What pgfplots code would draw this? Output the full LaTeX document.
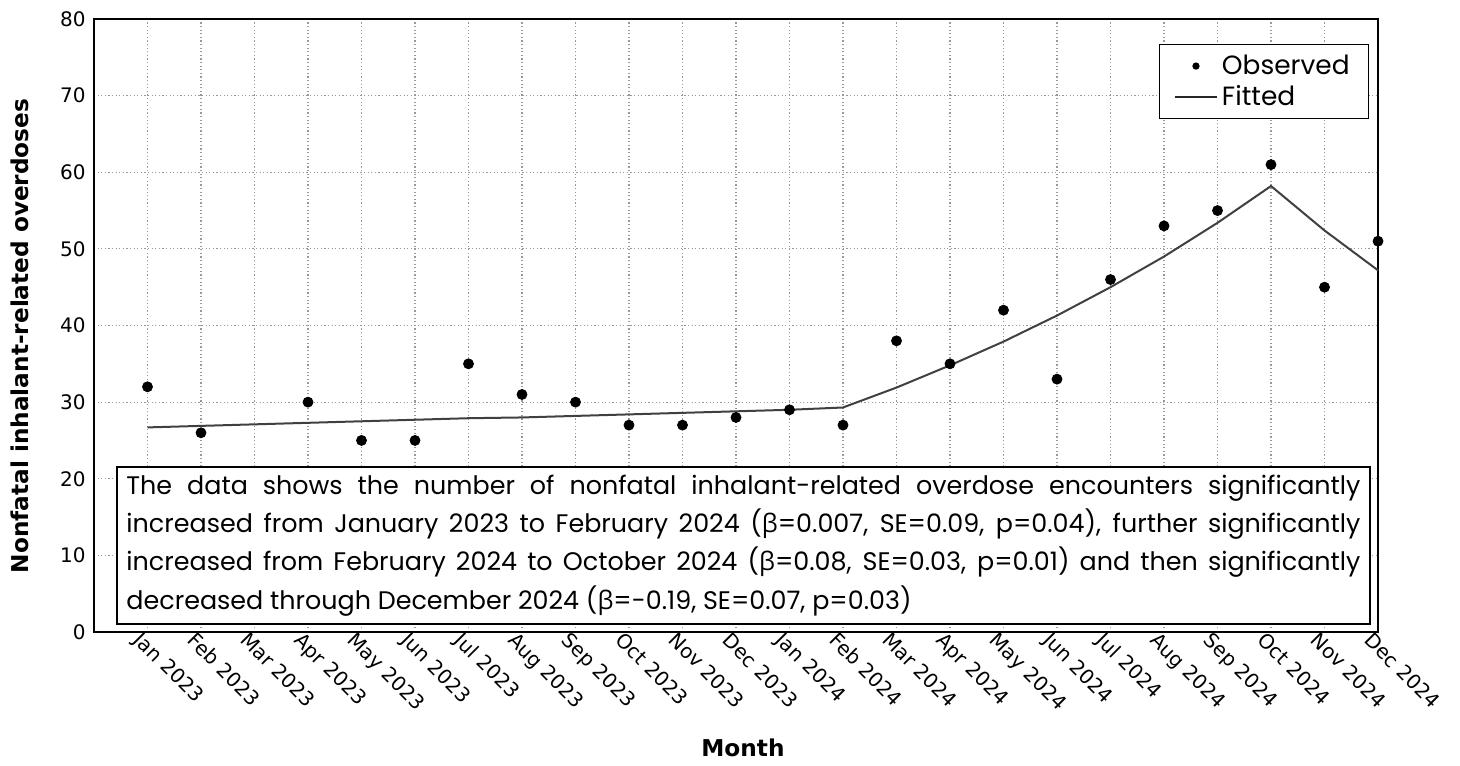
\documentclass[border=0pt]{standalone}
\usepackage{fontspec}
\setmainfont{DejaVu Sans}
\newfontfamily\pop{Poppins}
\newfontfamily\grk{Open Sans}
\usepackage{pgfplots}
\pgfplotsset{compat=1.18}
\pgfplotstableread{
x y
0 32
1 26
3 30
4 25
5 25
6 35
7 31
8 30
9 27
10 27
11 28
12 29
13 27
14 38
15 35
16 42
17 33
18 46
19 53
20 55
21 61
22 45
23 51
}\observed
\pgfplotstableread{
x y
0 26.7
1 26.9
2 27.1
3 27.3
4 27.5
5 27.7
6 27.9
7 28.0
8 28.2
9 28.4
10 28.6
11 28.8
12 29.0
13 29.3
14 31.9
15 34.8
16 37.9
17 41.3
18 45.0
19 49.0
20 53.4
21 58.2
22 52.4
23 47.2
}\fitted
\begin{document}
\begin{tikzpicture}
\useasboundingbox (0,0) rectangle (730pt,382.5pt);
\begin{axis}[
 at={(47pt,66.5pt)}, anchor=south west, scale only axis,
 width=642pt, height=306.5pt,
 xmin=-1, xmax=23, ymin=0, ymax=80,
 clip=false,
 xtick={0,...,23},
 xticklabels={Jan 2023,Feb 2023,Mar 2023,Apr 2023,May 2023,Jun 2023,Jul 2023,Aug 2023,Sep 2023,Oct 2023,Nov 2023,Dec 2023,Jan 2024,Feb 2024,Mar 2024,Apr 2024,May 2024,Jun 2024,Jul 2024,Aug 2024,Sep 2024,Oct 2024,Nov 2024,Dec 2024},
 ytick={0,10,...,80},
 grid=major,
 major grid style={gray!80, line width=0.6pt, dash pattern=on 0.6pt off 1.2pt},
 major tick length=0pt,
 axis line style={line width=1.1pt, black},
 tick label style={font=\fontsize{10}{12}\selectfont},
 /pgf/number format/assume math mode=true,
 xticklabel style={rotate=-45, anchor=north west, inner sep=0pt, xshift=-2pt, yshift=-1pt},
 yticklabel style={inner sep=0pt, xshift=-4pt},
 xlabel={Month},
 ylabel={Nonfatal inhalant-related overdoses},
 label style={font=\bfseries\fontsize{11.6}{13}\selectfont},
 xlabel style={at={(axis description cs:0.5054,-0.189)}, anchor=center},
 ylabel style={at={(axis description cs:-0.0576,0.483)}, anchor=center},
 legend style={at={(rel axis cs:1,1)}, anchor=north east, xshift=-4.5pt, yshift=-12.5pt,
   draw=black, font=\pop\fontsize{13.2}{15}\selectfont, legend cell align=left,
   inner xsep=7.5pt, inner ysep=3.2pt, row sep=0pt},
]
\addplot[only marks, mark=*, mark size=2.5pt, black,
  legend image code/.code={\fill[black] (10.5pt,0pt) circle (1.6pt);}] table[x=x,y=y] {\observed};
\addlegendentry{Observed}
\addplot[color=black!75, line width=1pt,
  legend image code/.code={\draw[black!85, line width=1pt] (0pt,0pt) -- (21pt,0pt);}] table[x=x,y=y] {\fitted};
\addlegendentry{Fitted}
\node[draw=black, line width=1pt, fill=white, anchor=north west, inner xsep=4.75pt, inner ysep=3.9pt,
  text width=617pt, align=justify, font=\pop\fontsize{12.7}{19.15}\selectfont]
  at (axis cs:-0.589,21.66) {\hyphenpenalty=10000 \exhyphenpenalty=10000 The data shows the number of nonfatal inhalant-related overdose encounters significantly\linebreak increased from January 2023 to February 2024 ({\grk β}=0.007, SE=0.09, p=0.04), further significantly\linebreak increased from February 2024 to October 2024 ({\grk β}=0.08, SE=0.03, p=0.01) and then significantly\linebreak decreased through December 2024 ({\grk β}=-0.19, SE=0.07, p=0.03)};
\end{axis}
\end{tikzpicture}
\end{document}
